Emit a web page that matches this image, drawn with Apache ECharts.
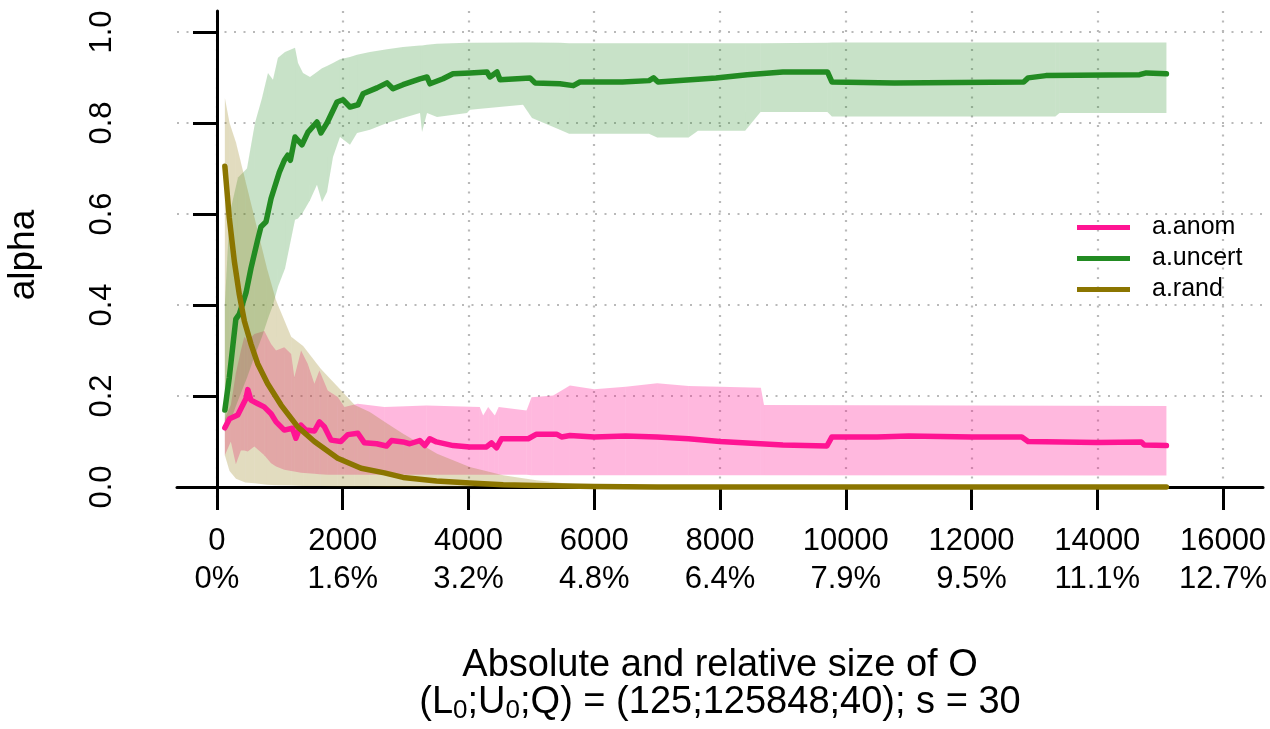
<!DOCTYPE html>
<html>
<head>
<meta charset="utf-8">
<script src="https://cdn.jsdelivr.net/npm/echarts@6/dist/echarts.min.js"></script>
<style>
  html, body { margin: 0; padding: 0; background: #fff; }
  #chart { width: 1270px; height: 729px; }
</style>
</head>
<body>
<div id="chart"></div>
<script>
var FONT = "'Liberation Sans', Arial, sans-serif";

// tick labels
var X_TICKS = [0, 2000, 4000, 6000, 8000, 10000, 12000, 14000, 16000];
var X_PCT = ['0%', '1.6%', '3.2%', '4.8%', '6.4%', '7.9%', '9.5%', '11.1%', '12.7%'];
var Y_TICKS = [0, 0.2, 0.4, 0.6, 0.8, 1.0];

// a.anom
var anomX = [125, 200, 330, 380, 460, 490, 540, 650, 750, 860, 940, 1070, 1200, 1255, 1335, 1415, 1550, 1630, 1710, 1815,
  1970, 2080, 2240, 2345, 2540, 2695, 2775, 2960, 3066, 3225, 3305, 3385, 3490, 3756, 4020, 4286, 4366, 4446, 4525, 4950,
  5082, 5400, 5480, 5613, 6000, 6500, 7000, 7500, 8000, 8500, 9000, 9700, 9780, 10500, 11000, 12000, 12800, 12900, 14000, 14700,
  14750, 15100];
var anomY = [0.130, 0.150, 0.158, 0.172, 0.194, 0.214, 0.191, 0.183, 0.176, 0.161, 0.143, 0.125, 0.129, 0.107, 0.136, 0.125, 0.123, 0.143, 0.132, 0.103,
  0.100, 0.115, 0.118, 0.097, 0.095, 0.090, 0.102, 0.099, 0.095, 0.102, 0.091, 0.106, 0.099, 0.091, 0.088, 0.088, 0.097, 0.086, 0.106, 0.106,
  0.116, 0.116, 0.110, 0.113, 0.110, 0.112, 0.110, 0.106, 0.100, 0.096, 0.092, 0.090, 0.110, 0.110, 0.112, 0.110, 0.110, 0.100, 0.098, 0.099,
  0.092, 0.091];
var anomBandX = [125, 220, 300, 380, 435, 490, 594, 753, 860, 940, 1070, 1180, 1230, 1337, 1443, 1549, 1629, 1761, 1920, 2027,
  2239, 2663, 3330, 4180, 4233, 4313, 4419, 4480, 4923, 5003, 5347, 5613, 6000, 6500, 7000, 7500, 8000, 8650, 8700, 15100];
var anomLo = [0.070, 0.100, 0.050, 0.080, 0.080, 0.078, 0.089, 0.070, 0.052, 0.045, 0.038, 0.035, 0.034, 0.031, 0.030, 0.029, 0.028, 0.027, 0.027, 0.027,
  0.027, 0.027, 0.027, 0.027, 0.027, 0.027, 0.027, 0.027, 0.027, 0.026, 0.026, 0.026, 0.026, 0.026, 0.026, 0.026, 0.026, 0.026, 0.026, 0.025];
var anomHi = [0.150, 0.180, 0.250, 0.300, 0.330, 0.320, 0.336, 0.343, 0.314, 0.300, 0.307, 0.292, 0.241, 0.300, 0.271, 0.227, 0.256, 0.212, 0.198, 0.176,
  0.183, 0.176, 0.179, 0.176, 0.157, 0.176, 0.157, 0.176, 0.168, 0.197, 0.201, 0.223, 0.215, 0.220, 0.228, 0.222, 0.220, 0.218, 0.180, 0.178];

// a.uncert
var uncertX = [125, 196, 300, 355, 462, 488, 541, 647, 700, 780, 860, 992, 1072, 1125, 1167, 1241, 1352, 1447, 1590, 1654,
  1750, 1909, 2004, 2115, 2243, 2322, 2545, 2704, 2799, 2958, 3229, 3340, 3388, 3595, 3754, 4024, 4294, 4342, 4453, 4501,
  4978, 5058, 5454, 5667, 5773, 6447, 6872, 6943, 7014, 7936, 8433, 9000, 9709, 9780, 10773, 12830, 12901, 13184, 14673, 14780,
  15100];
var uncertY = [0.169, 0.241, 0.369, 0.380, 0.427, 0.431, 0.481, 0.543, 0.572, 0.583, 0.634, 0.692, 0.718, 0.729, 0.718, 0.769, 0.752, 0.780, 0.802, 0.778,
  0.800, 0.846, 0.851, 0.835, 0.840, 0.864, 0.877, 0.888, 0.875, 0.884, 0.897, 0.901, 0.886, 0.897, 0.908, 0.910, 0.912, 0.901, 0.912, 0.895,
  0.899, 0.888, 0.886, 0.882, 0.890, 0.890, 0.893, 0.899, 0.890, 0.899, 0.906, 0.912, 0.912, 0.890, 0.888, 0.890, 0.899, 0.904, 0.906, 0.910,
  0.908];
var uncertBandX = [125, 200, 334, 477, 604, 716, 811, 890, 970, 1082, 1241, 1289, 1368, 1479, 1590, 1670, 1750, 1845, 1956, 2115,
  2227, 2433, 2704, 2958, 3229, 3261, 3340, 3499, 3976, 4024, 4867, 5010, 5454, 5600, 6870, 7000, 7500, 7650, 8400, 8645,
  9709, 9780, 13333, 13400, 15100];
var uncertLo = [0.120, 0.140, 0.190, 0.240, 0.290, 0.330, 0.370, 0.400, 0.440, 0.480, 0.587, 0.590, 0.604, 0.630, 0.664, 0.626, 0.648, 0.725, 0.769, 0.752,
  0.778, 0.785, 0.800, 0.811, 0.822, 0.780, 0.822, 0.813, 0.822, 0.829, 0.840, 0.811, 0.785, 0.776, 0.776, 0.768, 0.768, 0.783, 0.783, 0.824,
  0.824, 0.814, 0.814, 0.822, 0.822];
var uncertHi = [0.400, 0.600, 0.680, 0.700, 0.800, 0.855, 0.910, 0.895, 0.943, 0.956, 0.965, 0.932, 0.910, 0.901, 0.912, 0.920, 0.925, 0.932, 0.940, 0.945,
  0.950, 0.956, 0.962, 0.967, 0.970, 0.970, 0.972, 0.974, 0.976, 0.976, 0.977, 0.977, 0.976, 0.975, 0.975, 0.975, 0.975, 0.975, 0.975, 0.975,
  0.976, 0.977, 0.977, 0.977, 0.977];

// a.rand
var randX = [125, 196, 276, 355, 435, 541, 647, 806, 1019, 1284, 1549, 1920, 2292, 2663, 2960, 3491, 4021, 4552, 5082, 6000, 7000, 15100];
var randY = [0.705, 0.591, 0.496, 0.423, 0.365, 0.314, 0.271, 0.227, 0.180, 0.132, 0.100, 0.063, 0.041, 0.031, 0.021, 0.013, 0.009, 0.005, 0.003, 0.001, 0.000, 0.000];
var randBandX = [125, 200, 302, 450, 600, 795, 940, 1180, 1370, 1650, 1920, 2190, 2430, 2700, 2960, 3500, 4020, 4550, 5080, 5600, 6500, 8000, 15100];
var randLo = [0.070, 0.035, 0.018, 0.010, 0.008, 0.005, 0.004, 0.003, 0.002, 0.002, 0.001, 0.001, 0.001, 0, 0, 0, 0, 0, 0, 0, 0, 0, 0];
var randHi = [0.855, 0.800, 0.757, 0.674, 0.590, 0.480, 0.410, 0.330, 0.310, 0.260, 0.220, 0.180, 0.165, 0.140, 0.117, 0.073, 0.044, 0.026, 0.015, 0.007, 0.002, 0, 0];

var C_ANOM = '#FF1493', C_UNCERT = '#228B22', C_RAND = '#8B7500';

function pairs(xs, ys) {
  return xs.map(function (x, i) { return [x, ys[i]]; });
}

// one quad per step between consecutive band samples
function band(id, xs, lo, hi, fill) {
  var segs = [];
  for (var i = 0; i < xs.length - 1; i++) {
    segs.push([xs[i], lo[i], hi[i], xs[i + 1], lo[i + 1], hi[i + 1]]);
  }
  return {
    type: 'custom', name: id, data: segs, silent: true, z: 1,
    encode: { x: [0, 3], y: [1, 2, 4, 5] },
    renderItem: function (params, api) {
      var a = api.coord([api.value(0), api.value(1)]);
      var b = api.coord([api.value(3), api.value(4)]);
      var c = api.coord([api.value(3), api.value(5)]);
      var d = api.coord([api.value(0), api.value(2)]);
      return { type: 'polygon', shape: { points: [a, b, c, d] }, style: { fill: fill } };
    }
  };
}
function line(name, xs, ys, color) {
  return { type: 'line', name: name, data: pairs(xs, ys), showSymbol: false, silent: true,
    itemStyle: { color: color }, lineStyle: { color: color, width: 5.5, cap: 'round', join: 'round' }, z: 3 };
}

var gridLine = { color: '#b9b9b9', width: 2.2, type: [2, 7.5] };

var chart = echarts.init(document.getElementById('chart'));
chart.setOption({
  animation: false,
  backgroundColor: '#fff',
  textStyle: { fontFamily: FONT },
  grid: { left: 177, right: 7, top: 11, bottom: 224 },
  legend: {
    orient: 'vertical', left: 1077, top: 212, padding: 0,
    data: ['a.anom', 'a.uncert', 'a.rand'],
    icon: 'rect', itemWidth: 53, itemHeight: 5, itemGap: 0,
    textStyle: { fontFamily: FONT, fontSize: 25, color: '#000', lineHeight: 31, padding: [0, 0, 0, 17] },
    selectedMode: false
  },
  xAxis: {
    type: 'value', min: -636, max: 16636,
    axisLine: { lineStyle: { color: '#000', width: 3 } },
    axisTick: { customValues: X_TICKS, length: 23, lineStyle: { color: '#000', width: 3 } },
    axisLabel: {
      customValues: X_TICKS, margin: 17, color: '#000', fontFamily: FONT, fontSize: 31, lineHeight: 38,
      formatter: function (v) { var i = X_TICKS.indexOf(v); return v + '\n' + X_PCT[i]; }
    },
    splitLine: { show: true, lineStyle: gridLine }
  },
  yAxis: {
    type: 'value', min: -0.0396, max: 1.046,
    axisLine: { show: true, lineStyle: { color: '#000', width: 3 } },
    axisTick: { show: true, customValues: Y_TICKS, length: 24, lineStyle: { color: '#000', width: 3 } },
    axisLabel: {
      customValues: Y_TICKS, rotate: 90, margin: 59, color: '#000', fontFamily: FONT, fontSize: 31,
      formatter: function (v) { return v.toFixed(1); }
    },
    splitLine: { show: true, lineStyle: gridLine }
  },
  graphic: [
    { type: 'text', x: 24, y: 255, rotation: Math.PI / 2,
      style: { text: 'alpha', font: '37px ' + FONT, fill: '#000', align: 'center', verticalAlign: 'middle' } },
    { type: 'text', x: 720, y: 666,
      style: { text: 'Absolute and relative size of O', font: '38px ' + FONT, fill: '#000', align: 'center', verticalAlign: 'middle' } },
    { type: 'text', x: 720, y: 703,
      style: {
        text: '{n|(L}{s|0}{n|;U}{s|0}{n|;Q) = (125;125848;40); s = 30}',
        fill: '#000', align: 'center', verticalAlign: 'middle',
        rich: {
          n: { fontFamily: FONT, fontSize: 38, lineHeight: 42 },
          s: { fontFamily: FONT, fontSize: 26, lineHeight: 22, verticalAlign: 'bottom' }
        }
      } }
  ],
  series: [
    band('anomBand', anomBandX, anomLo, anomHi, 'rgba(255,20,147,0.3)'),
    band('uncertBand', uncertBandX, uncertLo, uncertHi, 'rgba(34,139,34,0.25)'),
    band('randBand', randBandX, randLo, randHi, 'rgba(139,117,0,0.25)'),
    line('a.anom', anomX, anomY, C_ANOM),
    line('a.uncert', uncertX, uncertY, C_UNCERT),
    line('a.rand', randX, randY, C_RAND)
  ]
});
</script>
</body>
</html>
